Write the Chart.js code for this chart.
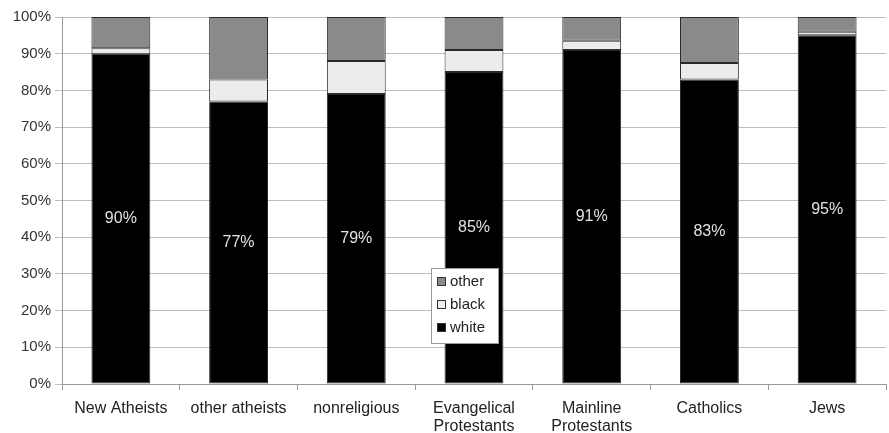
<!DOCTYPE html>
<html>
<head>
<meta charset="utf-8">
<script src="https://cdn.jsdelivr.net/npm/chart.js@4"></script>
<style>
  html, body { margin: 0; padding: 0; background: #fff; }
  #wrap { width: 889px; height: 433px; }
</style>
</head>
<body>
<div id="wrap"><canvas id="c" width="889" height="433"></canvas></div>
<script>
const categories = [
  'New Atheists', 'other atheists', 'nonreligious',
  ['Evangelical', 'Protestants'], ['Mainline', 'Protestants'],
  'Catholics', 'Jews'
];
const whiteShare = [90, 77, 79, 85, 91, 83, 95];
const blackShare = [1.5, 6, 9, 6, 2.5, 4.5, 1];
const otherShare = [8.5, 17, 12, 9, 6.5, 12.5, 4];
const yTicks = [0, 10, 20, 30, 40, 50, 60, 70, 80, 90, 100];

const FONT = '"Liberation Sans", Arial, sans-serif';

// Percent labels centred on the white segment of each bar
const segmentLabels = {
  id: 'segmentLabels',
  afterDatasetsDraw(chart) {
    const ctx = chart.ctx;
    const meta = chart.getDatasetMeta(0);
    ctx.save();
    ctx.font = '16px ' + FONT;
    ctx.fillStyle = '#e2e2e2';
    ctx.textAlign = 'center';
    ctx.textBaseline = 'middle';
    meta.data.forEach((bar, i) => {
      const y = (bar.y + bar.base) / 2;
      ctx.fillText(whiteShare[i] + '%', bar.x, y);
    });
    ctx.restore();
  }
};

// Boxed legend placed inside the plot area, listed top series first
const boxLegend = {
  id: 'boxLegend',
  afterDraw(chart) {
    const ctx = chart.ctx;
    const x = 431, y = 268, w = 67, h = 75;
    ctx.save();
    ctx.fillStyle = '#ffffff';
    ctx.fillRect(x, y, w, h);
    ctx.strokeStyle = '#9a9a9a';
    ctx.lineWidth = 1;
    ctx.strokeRect(x + 0.5, y + 0.5, w, h);
    ctx.font = '15px ' + FONT;
    ctx.textBaseline = 'middle';
    const ds = chart.data.datasets.slice().reverse();
    ds.forEach((d, i) => {
      const cy = y + 14 + i * 23;
      ctx.fillStyle = d.backgroundColor;
      ctx.fillRect(x + 6, cy - 5, 9, 9);
      ctx.strokeStyle = '#333';
      ctx.strokeRect(x + 6.5, cy - 4.5, 8, 8);
      ctx.fillStyle = '#222';
      ctx.fillText(d.label, x + 19, cy);
    });
    ctx.restore();
  }
};

new Chart(document.getElementById('c'), {
  type: 'bar',
  data: {
    labels: categories,
    datasets: [
      { label: 'white', data: whiteShare, backgroundColor: '#000000' },
      { label: 'black', data: blackShare, backgroundColor: '#ececec' },
      { label: 'other', data: otherShare, backgroundColor: '#8a8a8a' }
    ].map(d => Object.assign(d, {
      borderColor: '#2a2a2a', borderWidth: 1, borderSkipped: false,
      barPercentage: 0.5, categoryPercentage: 1.0
    }))
  },
  options: {
    responsive: false,
    animation: false,
    devicePixelRatio: 1,
    layout: { padding: { top: 17, right: 3, left: 0, bottom: 0 } },
    plugins: { legend: { display: false }, tooltip: { enabled: false } },
    scales: {
      x: {
        stacked: true,
        offset: true,
        grid: { offset: true, drawOnChartArea: false, drawTicks: true, tickLength: 6, color: '#9a9a9a' },
        border: { color: '#9a9a9a' },
        ticks: { color: '#222', font: { family: FONT, size: 16, lineHeight: 1.15 }, maxRotation: 0, autoSkip: false, padding: 9 },
        afterFit(scale) { scale.height = 49; }
      },
      y: {
        stacked: true,
        min: 0, max: 100,
        afterBuildTicks(scale) { scale.ticks = yTicks.map(v => ({ value: v })); },
        grid: { color: '#bdbdbd', tickLength: 7 },
        border: { color: '#9a9a9a' },
        ticks: { color: '#333', font: { family: FONT, size: 15 }, padding: 4, callback: v => v + '%' },
        afterFit(scale) { scale.width = 62; }
      }
    }
  },
  plugins: [segmentLabels, boxLegend]
});
</script>
</body>
</html>
